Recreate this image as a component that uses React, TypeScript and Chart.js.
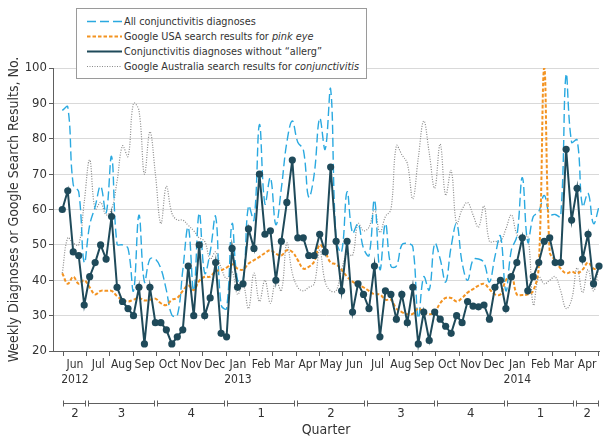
import React, { useEffect, useRef } from "react";
import { Chart, registerables } from "chart.js";

Chart.register(...registerables);

// ---- Data (weekly, Jun 2012 – Apr 2014) ----
const allConjunctivitis = [
  88, 89, 67, 65, 45, 55.6, 60.8, 66.6, 59, 75,
  50.2, 50, 49, 37, 58.4, 39.5, 46, 46, 43.3, 37.2,
  30.2, 30, 42.8, 55, 37, 59, 42, 48, 58, 33,
  32, 56, 40, 40, 61, 57, 84, 61.6, 69, 55.7,
  66, 79, 85, 79, 77, 63.5, 70, 85.8, 77, 94,
  51.6, 48, 65, 53.3, 56, 49, 47, 62.7, 43, 56,
  44, 44, 50, 50.4, 49.5, 29.4, 41, 37.2, 50.4, 46,
  39.5, 49.5, 56, 45, 40, 45.8, 46, 45, 39.5, 46.7,
  52.5, 37, 48.6, 52.4, 69, 50.7, 58, 59.4, 64, 58.6,
  58.6, 58, 98.3, 79, 79.7, 60.8, 64.6, 56, 60.8,
];

const googleUsaPinkEye = [
  42, 39, 41, 39, 40, 38, 36, 37, 37, 37,
  35.5, 34.5, 34, 34.5, 35, 34.3, 34.5, 34.8, 33.5, 33,
  34.5, 35, 37, 38.5, 37.2, 39.8, 41, 41, 42.6, 42.8,
  43.6, 44.5, 43.3, 43, 44.7, 45.7, 46.6, 47.7, 48.5, 47.5,
  47, 48.5, 48, 45.7, 43.3, 43.8, 45.3, 50, 48, 45,
  44.5, 43, 41, 39.6, 38.7, 38, 37, 36, 36, 34.5,
  34.5, 32, 31, 30.4, 30.5, 32, 31, 30.4, 31, 33.5,
  35, 35, 34, 35, 36.5, 37.5, 38.5, 39, 37.5, 36,
  36, 40, 41.5, 36, 35.8, 36, 37, 44, 100, 48,
  45.7, 43.3, 42, 42.4, 42, 43, 45, 43.3, 43.3,
];

const conjNoAllerg = [
  60, 65.3, 48, 47, 33, 41, 45, 50, 46, 58,
  38, 34, 32, 30, 38, 22, 38, 28, 28, 26,
  22, 24, 26, 44, 30, 50, 30, 35, 45, 25,
  24, 49, 38, 39, 54.5, 49, 70, 53, 54, 40,
  51, 62, 74, 52, 52, 47, 47, 53, 48, 72,
  51, 37, 51, 31, 39, 36, 32, 44, 24, 37,
  36, 29, 36, 28, 38, 22, 31, 23, 31, 29,
  27, 25, 30, 28, 34, 32.7, 32.5, 33, 29, 38,
  40, 32, 41, 45, 52, 37, 41, 45, 51, 52,
  45, 45, 77, 57, 66, 46, 53, 39, 44,
];

const googleAustraliaConj = [
  42, 52, 50.5, 50, 62, 74, 60, 62, 58.5, 60,
  68, 78, 75, 90, 88, 70, 82, 70, 56, 66.5,
  59, 57, 57, 55.5, 54, 52, 51, 46, 48, 43.5,
  40.5, 42.5, 36, 39, 32, 42, 34, 40, 33.5, 40,
  37, 50.5, 42, 38, 37, 38, 39, 48.5, 39.5, 37,
  37, 43, 47.5, 47, 56, 54, 55, 60, 53.5, 58,
  60, 78, 75.5, 73, 63, 74.5, 85, 76, 66, 78.5,
  64, 71, 56, 60, 62, 58.5, 55, 61, 51, 51,
  51, 54.5, 58.5, 53, 51.5, 52.5, 33, 41, 39, 40,
  41, 37, 32, 34.5, 43.5, 36.5, 43, 37, 44,
];

// Month tick labels (centered in each month, Jun 2012 .. Apr 2014)
const monthLabels: (string | string[])[] = [
  ["Jun", "2012"], "Jul", "Aug", "Sep", "Oct", "Nov", "Dec",
  ["Jan", "2013"], "Feb", "Mar", "Apr", "May", "Jun", "Jul", "Aug", "Sep", "Oct", "Nov", "Dec",
  ["Jan", "2014"], "Feb", "Mar", "Apr",
];
// Quarter segments (in months since 1 Jun 2012) and labels
const quarterBounds = [0, 1, 4, 7, 10, 13, 16, 19, 22, 23];
const quarterLabels = ["2", "3", "4", "1", "2", "3", "4", "1", "2"];

// x in months since 1 Jun 2012; weekly points
const FIRST_WEEK = -0.043;
const WEEK_IN_MONTHS = 23.053 / 98;
const X_MIN = -0.442;
const X_MAX = 23.01;

const FONT = "'DejaVu Sans Condensed', 'Liberation Sans Narrow', 'Arial Narrow', sans-serif";
const TEXT = "#333333";
const AXIS = "#5e5e5e";
const GRID = "#d9d9d9";
const BLUE = "#2aa9e0";
const ORANGE = "#f39321";
const DARK = "#1f4a5a";
const GRAY = "#8a8a8a";

const toPoints = (arr: number[]) => arr.map((v, i) => ({ x: FIRST_WEEK + i * WEEK_IN_MONTHS, y: v }));

const monthBounds = Array.from({ length: monthLabels.length + 1 }, (_, k) => k);
const monthCenters = monthLabels.map((_, k) => k + 0.5);
const quarterCenters = quarterLabels.map((_, j) => (quarterBounds[j] + quarterBounds[j + 1]) / 2);

const quarterBrackets = {
  id: "quarterBrackets",
  afterDraw(chart: any) {
    const s = chart.scales.xQuarter;
    if (!s) return;
    const ctx = chart.ctx;
    const y = Math.round(s.top + 10) + 0.5;
    ctx.save();
    ctx.strokeStyle = AXIS;
    ctx.lineWidth = 1;
    const n = quarterBounds.length - 1;
    for (let j = 0; j < n; j++) {
      const a = Math.round(s.getPixelForValue(quarterBounds[j]) + (j > 0 ? 1 : 0)) + 0.5;
      const b = Math.round(s.getPixelForValue(quarterBounds[j + 1]) - (j < n - 1 ? 1 : 0)) - 0.5;
      ctx.beginPath();
      ctx.moveTo(a, y);
      ctx.lineTo(b, y);
      ctx.moveTo(a, y - 3);
      ctx.lineTo(a, y + 3);
      ctx.moveTo(b, y - 3);
      ctx.lineTo(b, y + 3);
      ctx.stroke();
    }
    ctx.restore();
  },
};

function LegendRow({ dash, color, width, children }: any) {
  return (
    <div style={{ display: "flex", alignItems: "center", height: 15 }}>
      <svg width={35} height={15} style={{ marginLeft: 10, marginRight: 2, flex: "none" }}>
        <line x1={0} y1={7.5} x2={35} y2={7.5} stroke={color} strokeWidth={width} strokeDasharray={dash} />
      </svg>
      <span style={{ whiteSpace: "nowrap" }}>{children}</span>
    </div>
  );
}

export default function App() {
  const ref = useRef<HTMLCanvasElement>(null);

  useEffect(() => {
    const canvas = ref.current;
    if (!canvas) return;
    const chart = new Chart(canvas, {
      type: "line",
      data: {
        datasets: [
          {
            label: "Conjunctivitis diagnoses without “allerg”",
            data: toPoints(conjNoAllerg),
            borderColor: DARK,
            backgroundColor: DARK,
            borderWidth: 2,
            pointRadius: 3.6,
            pointBackgroundColor: DARK,
            pointBorderWidth: 0,
            tension: 0,
            order: 0,
            clip: { left: 6, right: 6, top: 6, bottom: 6 },
          },
          {
            label: "Google USA search results for pink eye",
            data: toPoints(googleUsaPinkEye),
            borderColor: ORANGE,
            borderWidth: 2,
            borderDash: [3.5, 2],
            pointRadius: 0,
            tension: 0.4,
            order: 1,
          },
          {
            label: "All conjunctivitis diagnoses",
            data: toPoints(allConjunctivitis),
            borderColor: BLUE,
            borderWidth: 1.4,
            borderDash: [9, 4],
            pointRadius: 0,
            tension: 0.4,
            order: 2,
          },
          {
            label: "Google Australia search results for conjunctivitis",
            data: toPoints(googleAustraliaConj),
            borderColor: GRAY,
            borderWidth: 1.2,
            borderDash: [1, 1.5],
            pointRadius: 0,
            tension: 0.4,
            order: 3,
          },
        ],
      },
      options: {
        animation: false,
        responsive: false,
        maintainAspectRatio: false,
        events: [],
        layout: { padding: { top: 68, right: 13, left: 0, bottom: 0 } },
        plugins: { legend: { display: false }, tooltip: { enabled: false } },
        scales: {
          x: {
            type: "linear",
            position: "bottom",
            weight: 0,
            min: X_MIN,
            max: X_MAX,
            afterBuildTicks: (s: any) => {
              s.ticks = monthBounds.map((v) => ({ value: v }));
            },
            ticks: { autoSkip: false, maxRotation: 0, minRotation: 0, padding: 0, callback: () => "", font: { size: 1 } },
            grid: { display: true, drawOnChartArea: false, drawTicks: true, tickLength: 5, tickColor: AXIS, color: AXIS },
            border: { display: true, color: AXIS, width: 1 },
            afterFit: (s: any) => {
              s.height = 6;
            },
          },
          xMonths: {
            type: "linear",
            position: "bottom",
            weight: 1,
            min: X_MIN,
            max: X_MAX,
            afterBuildTicks: (s: any) => {
              s.ticks = monthCenters.map((v) => ({ value: v }));
            },
            ticks: {
              autoSkip: false,
              maxRotation: 0,
              minRotation: 0,
              padding: 0,
              color: TEXT,
              font: { family: FONT, size: 12, lineHeight: 1.25 },
              callback: (_v: any, i: number) => monthLabels[i] as any,
            },
            grid: { display: false, drawTicks: false },
            border: { display: false },
            afterFit: (s: any) => {
              s.height = 36;
            },
          },
          xQuarter: {
            type: "linear",
            position: "bottom",
            weight: 2,
            min: X_MIN,
            max: X_MAX,
            afterBuildTicks: (s: any) => {
              s.ticks = quarterCenters.map((v) => ({ value: v }));
            },
            ticks: {
              autoSkip: false,
              maxRotation: 0,
              minRotation: 0,
              padding: 13,
              color: TEXT,
              font: { family: FONT, size: 13 },
              callback: (_v: any, i: number) => quarterLabels[i],
            },
            grid: { display: false, drawTicks: false },
            border: { display: false },
            title: {
              display: true,
              text: "Quarter",
              color: TEXT,
              font: { family: FONT, size: 14 },
              padding: { top: 0, bottom: 5 },
            },
            afterFit: (s: any) => {
              s.height = 51;
            },
          },
          y: {
            type: "linear",
            min: 20,
            max: 100,
            ticks: {
              stepSize: 10,
              autoSkip: false,
              padding: 2,
              color: TEXT,
              font: { family: FONT, size: 13 },
            },
            grid: { color: GRID, tickColor: AXIS, tickLength: 4, lineWidth: 1 },
            border: { display: true, color: AXIS, width: 1 },
            title: {
              display: true,
              text: "Weekly Diagnoses or Google Search Results, No.",
              color: TEXT,
              font: { family: FONT, size: 14 },
              padding: { top: 5.5, bottom: 0 },
            },
            afterFit: (s: any) => {
              s.width = 53;
            },
          },
        },
      },
      plugins: [quarterBrackets],
    } as any);
    return () => chart.destroy();
  }, []);

  return (
    <div style={{ position: "fixed", left: 0, top: 0, width: 612, height: 444, background: "#ffffff" }}>
      <canvas ref={ref} width={612} height={444} style={{ display: "block", width: 612, height: 444 }} />
      <div
        style={{
          position: "absolute",
          left: 76,
          top: 8,
          width: 291,
          height: 71,
          boxSizing: "border-box",
          border: "1px solid #9a9a9a",
          background: "#ffffff",
          paddingTop: 5,
          fontFamily: FONT,
          fontSize: 10.8,
          color: TEXT,
          lineHeight: "15px",
        }}
      >
        <LegendRow color={BLUE} width={1.4} dash="9 4">All conjunctivitis diagnoses</LegendRow>
        <LegendRow color={ORANGE} width={2} dash="3.5 2">
          Google USA search results for <i>pink eye</i>
        </LegendRow>
        <LegendRow color={DARK} width={2} dash="none">Conjunctivitis diagnoses without “allerg”</LegendRow>
        <LegendRow color={GRAY} width={1.2} dash="1 1.5">
          Google Australia search results for <i>conjunctivitis</i>
        </LegendRow>
      </div>
    </div>
  );
}
